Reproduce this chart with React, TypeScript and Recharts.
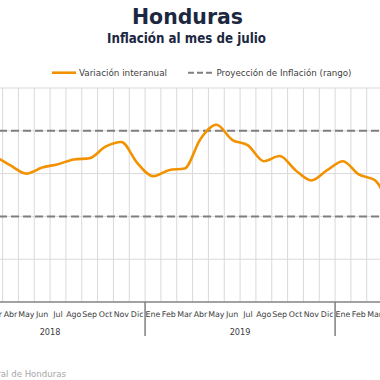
import React from "react";
import { LineChart, Line, XAxis, YAxis, CartesianGrid, ReferenceLine } from "recharts";

const months = ["Ene", "Feb", "Mar", "Abr", "May", "Jun", "Jul", "Ago", "Sep", "Oct", "Nov", "Dic"];
const years = [2018, 2019, 2020];
const inflacion2018 = [4.5, 4.5, 4.4, 4.19, 4.0, 4.14, 4.22, 4.33, 4.36, 4.63, 4.74, 4.25];
const inflacion2019 = [3.94, 4.08, 4.12, 4.81, 5.14, 4.79, 4.66, 4.29, 4.41, 4.08, 3.84, 4.08];
const inflacion2020: (number | null)[] = [4.29, 3.98, 3.85, 3.2, null, null, null];
const proyeccionSuperior = 5;
const proyeccionInferior = 3;
const yTicks = [1, 2, 3, 4, 5, 6];

const series = [inflacion2018, inflacion2019, inflacion2020];
const data = years.flatMap((yr, yi) =>
  series[yi].map((v, mi) => ({ key: `${months[mi]}-${yr}`, mes: months[mi], anio: yr, valor: v }))
);

const N = data.length;
const PLOT_W = 475;
const STEP = PLOT_W / (N - 1);
const FONT = "'DejaVu Sans', sans-serif";

const MonthTick = (props: any) => {
  const { x, y, payload } = props;
  const idx = payload.index ?? props.index;
  const d = data[idx];
  const mi = idx % 12;
  return (
    <g>
      <text x={x} y={y + 14.7} textAnchor="middle" fontSize={7.9} fill="#404040" fontFamily={FONT}>
        {d.mes}
      </text>
      {mi === 0 && (
        <line x1={x - STEP / 2} x2={x - STEP / 2} y1={y} y2={y + 34} stroke="#7f7f7f" strokeWidth={1.5} />
      )}
      {mi === 5 && (
        <text x={x + STEP / 2} y={y + 32.5} textAnchor="middle" fontSize={8.2} fill="#404040" fontFamily={FONT}>
          {d.anio}
        </text>
      )}
    </g>
  );
};

export default function App() {
  return (
    <div style={{ position: "absolute", left: 0, top: 0, width: 380, height: 380, overflow: "hidden", background: "#fff" }}>
      <div style={{ position: "absolute", left: -37, top: 0 }}>
        <LineChart width={PLOT_W} height={380} data={data} margin={{ top: 88, right: 0, bottom: 38, left: 0 }}>
          <CartesianGrid
            stroke="#d9d9d9"
            strokeWidth={1}
            verticalCoordinatesGenerator={(p: any) => {
              const left = p?.offset?.left ?? 0;
              const w = p?.offset?.width ?? PLOT_W;
              const s = w / (N - 1);
              return Array.from({ length: N + 1 }, (_, i) => left + i * s - s / 2);
            }}
          />
          <XAxis
            dataKey="key"
            interval={0}
            height={40}
            tickSize={0}
            tickMargin={0}
            tickLine={false}
            axisLine={{ stroke: "#8a8a8a", strokeWidth: 1.5 }}
            tick={<MonthTick />}
          />
          <YAxis hide type="number" domain={[1, 6]} ticks={yTicks} />
          <ReferenceLine y={proyeccionSuperior} stroke="#7f7f7f" strokeWidth={2} strokeDasharray="8 4" />
          <ReferenceLine y={proyeccionInferior} stroke="#7f7f7f" strokeWidth={2} strokeDasharray="8 4" />
          <Line
            type="monotone"
            dataKey="valor"
            stroke="#f39200"
            strokeWidth={2.6}
            dot={false}
            isAnimationActive={false}
            connectNulls={false}
          />
        </LineChart>
      </div>
      <svg width={380} height={380} style={{ position: "absolute", left: 0, top: 0, pointerEvents: "none" }}>
        <text x={132} y={23.5} textLength={111} lengthAdjust="spacingAndGlyphs" fontSize={21.5} fontWeight={700} fill="#1c2841" fontFamily={FONT}>
          Honduras
        </text>
        <text x={107} y={42.5} textLength={159} lengthAdjust="spacingAndGlyphs" fontSize={13.5} fontWeight={700} fill="#1c2841" fontFamily={FONT}>
          Inflación al mes de julio
        </text>
        <line x1={52} x2={76} y1={72.7} y2={72.7} stroke="#f39200" strokeWidth={2.6} />
        <text x={79} y={76} textLength={88} lengthAdjust="spacingAndGlyphs" fontSize={9} fill="#404040" fontFamily={FONT}>
          Variación interanual
        </text>
        <line x1={188} x2={213} y1={72.7} y2={72.7} stroke="#7f7f7f" strokeWidth={2} strokeDasharray="6 3" />
        <text x={216.5} y={76} textLength={135} lengthAdjust="spacingAndGlyphs" fontSize={9} fill="#404040" fontFamily={FONT}>
          Proyección de Inflación (rango)
        </text>
        <text x={66} y={376.5} textAnchor="end" fontSize={8.6} fill="#a6a6a6" fontFamily={FONT}>
          Fuente: Banco Central de Honduras
        </text>
      </svg>
    </div>
  );
}
